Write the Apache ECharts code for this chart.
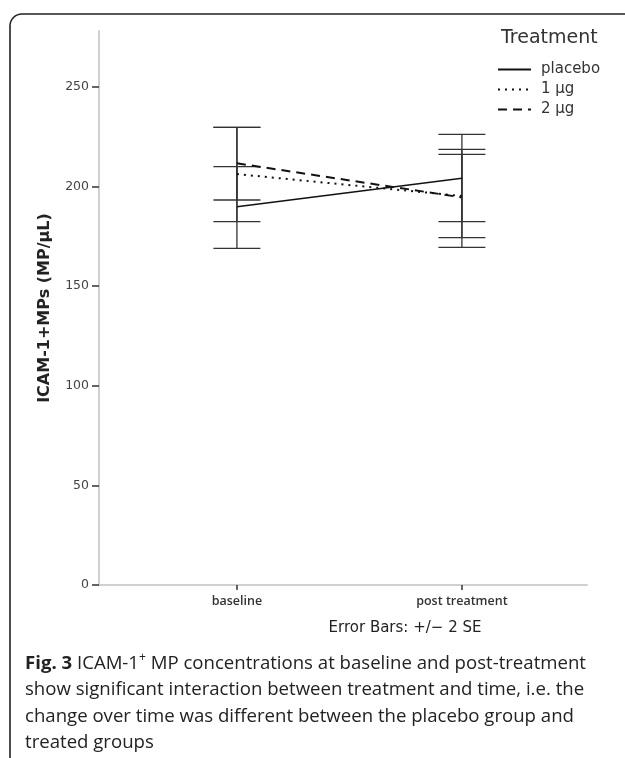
<!DOCTYPE html>
<html>
<head>
<meta charset="utf-8">
<script src="https://cdn.jsdelivr.net/npm/echarts@6/dist/echarts.min.js"></script>
<style>
html,body{margin:0;padding:0;background:#fff;}
#chart{width:625px;height:758px;}
</style>
</head>
<body>
<div id="chart"></div>
<script>
// ---- data ----
const categories = ['baseline', 'post treatment'];
const groups = ['placebo', '1 µg', '2 µg'];
const placeboMean = [189.8, 204.1];
const placeboLow  = [168.9, 182.3];
const placeboHigh = [209.9, 226.1];
const dose1Mean = [206.2, 195.2];
const dose1Low  = [182.3, 174.3];
const dose1High = [229.6, 216.1];
const dose2Mean = [211.6, 194.5];
const dose2Low  = [193.2, 169.4];
const dose2High = [229.6, 218.6];
const yTicks = [0, 50, 100, 150, 200, 250];
const xTicks = [0, 1];
const yAxisTitle = 'ICAM-1+MPs (MP/µL)';
const legendTitle = 'Treatment';
const errorNote = 'Error Bars: +/\u2212 2 SE';
const captionLines = [
  '{b|Fig. 3} ICAM-1{s|+} MP concentrations at baseline and post-treatment',
  'show significant interaction between treatment and time, i.e. the',
  'change over time was different between the placebo group and',
  'treated groups'
];

const means = [placeboMean, dose1Mean, dose2Mean];
const lows = [placeboLow, dose1Low, dose2Low];
const highs = [placeboHigh, dose1High, dose2High];
const lineTypes = ['solid', [2, 5], [9, 6]];

const errData = [];
for (let g = 0; g < groups.length; g++) {
  for (let i = 0; i < categories.length; i++) {
    errData.push([i, lows[g][i], highs[g][i]]);
  }
}

const chart = echarts.init(document.getElementById('chart'), null, {renderer: 'canvas'});

const lineSeries = groups.map((name, g) => ({
  name: name,
  type: 'line',
  data: means[g].map((v, i) => [i, v]),
  symbol: 'none',
  showSymbol: false,
  z: 5,
  lineStyle: {color: '#111', width: g === 0 ? 1.6 : 2, type: lineTypes[g]},
  itemStyle: {color: '#111'}
}));

const option = {
  backgroundColor: '#fff',
  animation: false,
  title: {
    text: legendTitle,
    left: 501, top: 29, padding: 0,
    textStyle: {fontFamily: 'DejaVu Sans', fontSize: 19, fontWeight: 'normal', color: '#333'}
  },
  legend: {
    data: groups,
    orient: 'vertical',
    left: 497, top: 62,
    padding: 0,
    itemWidth: 33, itemHeight: 14, itemGap: 5,
    itemStyle: {opacity: 0},
    textStyle: {fontFamily: 'DejaVu Sans', fontSize: 15, color: '#333', padding: [0, 0, 0, 5]}
  },
  grid: {left: 99, right: 38, top: 31, bottom: 173, containLabel: false},
  xAxis: {
    type: 'value',
    min: -0.613, max: 1.556,
    splitLine: {show: false},
    axisLine: {show: true, onZero: false, lineStyle: {color: '#d0d0d0', width: 2}},
    axisTick: {show: true, customValues: xTicks, length: 5, lineStyle: {color: '#333', width: 1.5}},
    axisLabel: {
      customValues: xTicks,
      margin: 10,
      fontFamily: 'Open Sans', fontWeight: 600, fontSize: 12.5, color: '#333',
      formatter: v => categories[Math.round(v)]
    }
  },
  yAxis: {
    type: 'value',
    min: 0, max: 278,
    name: yAxisTitle,
    nameLocation: 'middle',
    nameGap: 46,
    nameTextStyle: {fontFamily: 'DejaVu Sans', fontWeight: 'bold', fontSize: 16, color: '#222'},
    splitLine: {show: false},
    axisLine: {show: true, onZero: false, lineStyle: {color: '#d0d0d0', width: 2}},
    axisTick: {show: true, customValues: yTicks, length: 7, lineStyle: {color: '#333', width: 1.5}},
    axisLabel: {customValues: yTicks, margin: 10, fontFamily: 'DejaVu Sans', fontSize: 12.5, color: '#444'}
  },
  series: lineSeries.concat([{
    name: 'error bars',
    type: 'custom',
    data: errData,
    z: 4,
    encode: {x: 0, y: [1, 2]},
    renderItem: function (params, api) {
      const x = api.value(0);
      const lo = api.coord([x, api.value(1)]);
      const hi = api.coord([x, api.value(2)]);
      const hw = 23.5;
      const st = {stroke: '#333', lineWidth: 1.3};
      return {
        type: 'group',
        children: [
          {type: 'line', shape: {x1: lo[0], y1: lo[1], x2: hi[0], y2: hi[1]}, style: st},
          {type: 'line', shape: {x1: lo[0] - hw, y1: lo[1], x2: lo[0] + hw, y2: lo[1]}, style: st},
          {type: 'line', shape: {x1: hi[0] - hw, y1: hi[1], x2: hi[0] + hw, y2: hi[1]}, style: st}
        ]
      };
    }
  }]),
  graphic: [
    {
      type: 'rect',
      shape: {x: 10, y: 14, width: 700, height: 800, r: 12},
      style: {fill: 'none', stroke: '#222', lineWidth: 1.6},
      silent: true
    },
    {
      type: 'text',
      x: 405, y: 628,
      style: {
        text: errorNote, align: 'center', verticalAlign: 'middle',
        font: '15px "DejaVu Sans"', fill: '#222'
      }
    },
    {
      type: 'text',
      x: 25, y: 650,
      style: {
        text: captionLines.join('\n'),
        fontFamily: 'Open Sans', fontSize: 18.6, fill: '#222',
        lineHeight: 26.5,
        rich: {
          b: {fontFamily: 'Open Sans', fontWeight: 'bold', fontSize: 18.6, lineHeight: 26.5, fill: '#222'},
          s: {fontFamily: 'Open Sans', fontSize: 12, lineHeight: 26.5, fill: '#222', padding: [0, 0, 11, 0]}
        }
      }
    }
  ]
};

chart.setOption(option);
</script>
</body>
</html>
